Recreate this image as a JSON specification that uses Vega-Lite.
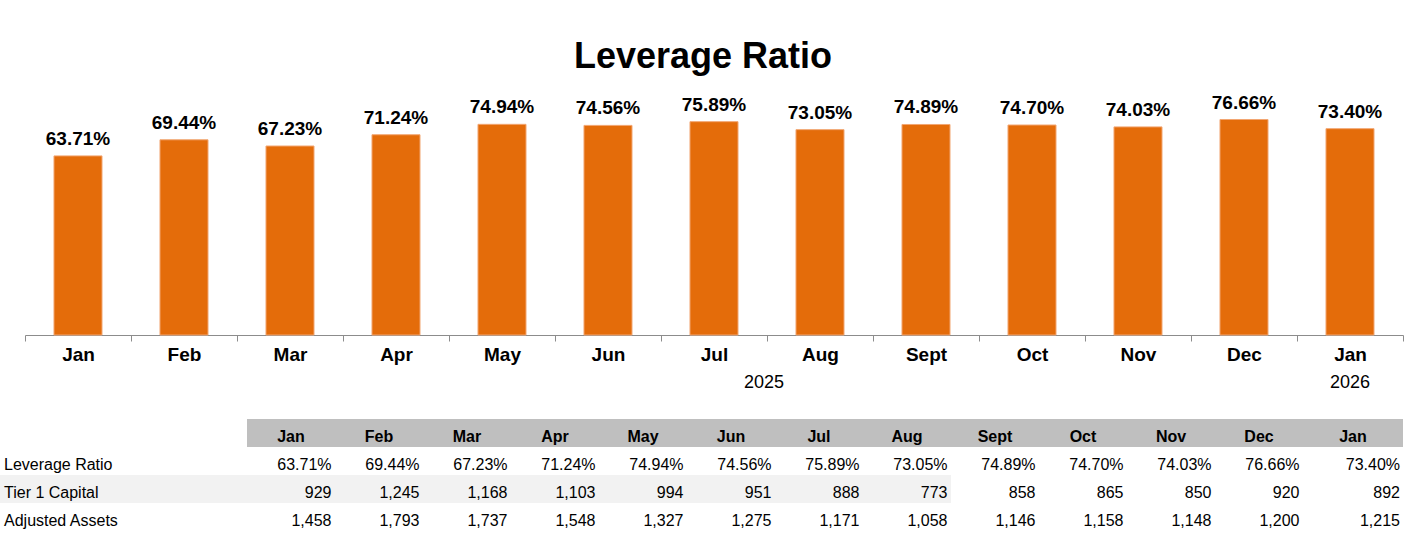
{
  "$schema": "https://vega.github.io/schema/vega-lite/v6.json",
  "padding": {"top": 39, "left": 0, "right": 0, "bottom": 0},
  "autosize": {"type": "pad"},
  "background": "white",
  "config": {"font": "Liberation Sans", "view": {"stroke": null}},
  "datasets": {
    "months": [
      {"key": "Jan 2025", "m": "Jan", "lr": 0.6371, "t1": 929, "aa": 1458},
      {"key": "Feb 2025", "m": "Feb", "lr": 0.6944, "t1": 1245, "aa": 1793},
      {"key": "Mar 2025", "m": "Mar", "lr": 0.6723, "t1": 1168, "aa": 1737},
      {"key": "Apr 2025", "m": "Apr", "lr": 0.7124, "t1": 1103, "aa": 1548},
      {"key": "May 2025", "m": "May", "lr": 0.7494, "t1": 994, "aa": 1327},
      {"key": "Jun 2025", "m": "Jun", "lr": 0.7456, "t1": 951, "aa": 1275},
      {"key": "Jul 2025", "m": "Jul", "lr": 0.7589, "t1": 888, "aa": 1171},
      {"key": "Aug 2025", "m": "Aug", "lr": 0.7305, "t1": 773, "aa": 1058},
      {"key": "Sept 2025", "m": "Sept", "lr": 0.7489, "t1": 858, "aa": 1146},
      {"key": "Oct 2025", "m": "Oct", "lr": 0.7470, "t1": 865, "aa": 1158},
      {"key": "Nov 2025", "m": "Nov", "lr": 0.7403, "t1": 850, "aa": 1148},
      {"key": "Dec 2025", "m": "Dec", "lr": 0.7666, "t1": 920, "aa": 1200},
      {"key": "Jan 2026", "m": "Jan", "lr": 0.7340, "t1": 892, "aa": 1215}
    ],
    "rows": [
      {"row": "Leverage Ratio"},
      {"row": "Tier 1 Capital"},
      {"row": "Adjusted Assets"}
    ],
    "years": [
      {"key": "Jul 2025", "year": "2025"},
      {"key": "Jan 2026", "year": "2026"}
    ]
  },
  "spacing": 84,
  "bounds": "flush",
  "vconcat": [
    {
      "width": 1406,
      "height": 253,
      "title": {"text": "Leverage Ratio", "fontSize": 36, "fontWeight": "bold", "color": "black", "anchor": "middle", "baseline": "alphabetic", "offset": -22},
      "layer": [
        {
          "data": {"name": "months"},
          "mark": {"type": "bar", "color": "#E46C0A", "stroke": "#F2A672", "strokeWidth": 1, "width": {"band": 0.453}},
          "encoding": {
            "x": {
              "field": "key", "type": "nominal", "sort": null,
              "scale": {
                "domain": ["Jan 2025", "Feb 2025", "Mar 2025", "Apr 2025", "May 2025", "Jun 2025", "Jul 2025", "Aug 2025", "Sept 2025", "Oct 2025", "Nov 2025", "Dec 2025", "Jan 2026"],
                "range": [25, 1403], "paddingInner": 0, "paddingOuter": 0
              },
              "axis": {
                "title": null, "labelExpr": "split(datum.label, ' ')[0]", "labelFontSize": 19, "labelFontWeight": "bold",
                "labelColor": "black", "labelAngle": 0, "labelBaseline": "alphabetic", "labelPadding": 19,
                "tickSize": 6, "tickColor": "#8C8C8C", "domainColor": "#8C8C8C", "tickBand": "extent", "grid": false
              }
            },
            "y": {"field": "lr", "type": "quantitative", "scale": {"domain": [0, 0.9]}, "axis": null}
          }
        },
        {
          "data": {"name": "months"},
          "mark": {"type": "text", "fontSize": 19, "fontWeight": "bold", "baseline": "alphabetic", "dy": -11, "color": "black"},
          "encoding": {
            "x": {"field": "key", "type": "nominal"},
            "y": {"field": "lr", "type": "quantitative"},
            "text": {"field": "lr", "format": ".2%"}
          }
        },
        {
          "data": {"name": "years"},
          "transform": [{"filter": "datum.year === '2025'"}],
          "mark": {"type": "text", "fontSize": 18, "baseline": "alphabetic", "dy": 53, "dx": -3, "color": "black"},
          "encoding": {
            "x": {"field": "key", "type": "nominal", "bandPosition": 1},
            "y": {"datum": 0, "type": "quantitative"},
            "text": {"field": "year"}
          }
        },
        {
          "data": {"name": "years"},
          "transform": [{"filter": "datum.year === '2026'"}],
          "mark": {"type": "text", "fontSize": 18, "baseline": "alphabetic", "dy": 53, "color": "black"},
          "encoding": {
            "x": {"field": "key", "type": "nominal"},
            "y": {"datum": 0, "type": "quantitative"},
            "text": {"field": "year"}
          }
        }
      ]
    },
    {
      "spacing": 0,
      "bounds": "flush",
      "hconcat": [
        {
          "width": 247,
          "height": 112,
          "data": {"name": "rows"},
          "layer": [
            {
              "transform": [{"filter": "datum.row === 'Tier 1 Capital'"}],
              "mark": {"type": "rect", "color": "#F2F2F2"},
              "encoding": {
                "x": {"datum": 0, "type": "quantitative", "scale": {"domain": [0, 1]}, "axis": null},
                "x2": {"datum": 1},
                "y": {"field": "row", "type": "nominal", "scale": {"domain": ["hdr", "Leverage Ratio", "Tier 1 Capital", "Adjusted Assets"], "paddingInner": 0, "paddingOuter": 0}, "axis": null}
              }
            },
            {
              "mark": {"type": "text", "align": "left", "baseline": "alphabetic", "dx": 4, "dy": 9, "fontSize": 16, "color": "black"},
              "encoding": {
                "x": {"datum": 0, "type": "quantitative"},
                "y": {"field": "row", "type": "nominal"},
                "text": {"field": "row"}
              }
            }
          ]
        },
        {
          "width": 1056,
          "height": 112,
          "data": {"name": "months"},
          "transform": [{"filter": "datum.key !== 'Jan 2026'"}],
          "layer": [
            {
              "mark": {"type": "rect", "color": "#BFBFBF"},
              "encoding": {
                "x": {"field": "key", "type": "nominal", "sort": null,
                  "scale": {"domain": ["Jan 2025", "Feb 2025", "Mar 2025", "Apr 2025", "May 2025", "Jun 2025", "Jul 2025", "Aug 2025", "Sept 2025", "Oct 2025", "Nov 2025", "Dec 2025"], "paddingInner": 0, "paddingOuter": 0},
                  "axis": null},
                "y": {"datum": "hdr", "type": "nominal", "scale": {"domain": ["hdr", "Leverage Ratio", "Tier 1 Capital", "Adjusted Assets"], "paddingInner": 0, "paddingOuter": 0}, "axis": null}
              }
            },
            {
              "transform": [{"filter": {"field": "key", "oneOf": ["Jan 2025", "Feb 2025", "Mar 2025", "Apr 2025", "May 2025", "Jun 2025", "Jul 2025", "Aug 2025"]}}],
              "mark": {"type": "rect", "color": "#F2F2F2"},
              "encoding": {
                "x": {"field": "key", "type": "nominal"},
                "y": {"datum": "Tier 1 Capital", "type": "nominal"}
              }
            },
            {
              "mark": {"type": "text", "fontSize": 16, "fontWeight": "bold", "baseline": "alphabetic", "dy": 9, "color": "black"},
              "encoding": {
                "x": {"field": "key", "type": "nominal"},
                "y": {"datum": "hdr", "type": "nominal"},
                "text": {"field": "m"}
              }
            },
            {
              "mark": {"type": "text", "fontSize": 16, "align": "right", "baseline": "alphabetic", "dx": -3.5, "dy": 9, "color": "black"},
              "encoding": {
                "x": {"field": "key", "type": "nominal", "bandPosition": 1},
                "y": {"datum": "Leverage Ratio", "type": "nominal"},
                "text": {"field": "lr", "format": ".2%"}
              }
            },
            {
              "mark": {"type": "text", "fontSize": 16, "align": "right", "baseline": "alphabetic", "dx": -3.5, "dy": 9, "color": "black"},
              "encoding": {
                "x": {"field": "key", "type": "nominal", "bandPosition": 1},
                "y": {"datum": "Tier 1 Capital", "type": "nominal"},
                "text": {"field": "t1", "format": ",d"}
              }
            },
            {
              "mark": {"type": "text", "fontSize": 16, "align": "right", "baseline": "alphabetic", "dx": -3.5, "dy": 9, "color": "black"},
              "encoding": {
                "x": {"field": "key", "type": "nominal", "bandPosition": 1},
                "y": {"datum": "Adjusted Assets", "type": "nominal"},
                "text": {"field": "aa", "format": ",d"}
              }
            }
          ]
        },
        {
          "width": 100,
          "height": 112,
          "data": {"name": "months"},
          "transform": [{"filter": "datum.key === 'Jan 2026'"}],
          "layer": [
            {
              "mark": {"type": "rect", "color": "#BFBFBF"},
              "encoding": {
                "x": {"field": "key", "type": "nominal", "scale": {"paddingInner": 0, "paddingOuter": 0}, "axis": null},
                "y": {"datum": "hdr", "type": "nominal", "scale": {"domain": ["hdr", "Leverage Ratio", "Tier 1 Capital", "Adjusted Assets"], "paddingInner": 0, "paddingOuter": 0}, "axis": null}
              }
            },
            {
              "mark": {"type": "text", "fontSize": 16, "fontWeight": "bold", "baseline": "alphabetic", "dy": 9, "color": "black"},
              "encoding": {
                "x": {"field": "key", "type": "nominal"},
                "y": {"datum": "hdr", "type": "nominal"},
                "text": {"field": "m"}
              }
            },
            {
              "mark": {"type": "text", "fontSize": 16, "align": "right", "baseline": "alphabetic", "dx": -3, "dy": 9, "color": "black"},
              "encoding": {
                "x": {"field": "key", "type": "nominal", "bandPosition": 1},
                "y": {"datum": "Leverage Ratio", "type": "nominal"},
                "text": {"field": "lr", "format": ".2%"}
              }
            },
            {
              "mark": {"type": "text", "fontSize": 16, "align": "right", "baseline": "alphabetic", "dx": -3, "dy": 9, "color": "black"},
              "encoding": {
                "x": {"field": "key", "type": "nominal", "bandPosition": 1},
                "y": {"datum": "Tier 1 Capital", "type": "nominal"},
                "text": {"field": "t1", "format": ",d"}
              }
            },
            {
              "mark": {"type": "text", "fontSize": 16, "align": "right", "baseline": "alphabetic", "dx": -3, "dy": 9, "color": "black"},
              "encoding": {
                "x": {"field": "key", "type": "nominal", "bandPosition": 1},
                "y": {"datum": "Adjusted Assets", "type": "nominal"},
                "text": {"field": "aa", "format": ",d"}
              }
            }
          ]
        }
      ]
    }
  ]
}
